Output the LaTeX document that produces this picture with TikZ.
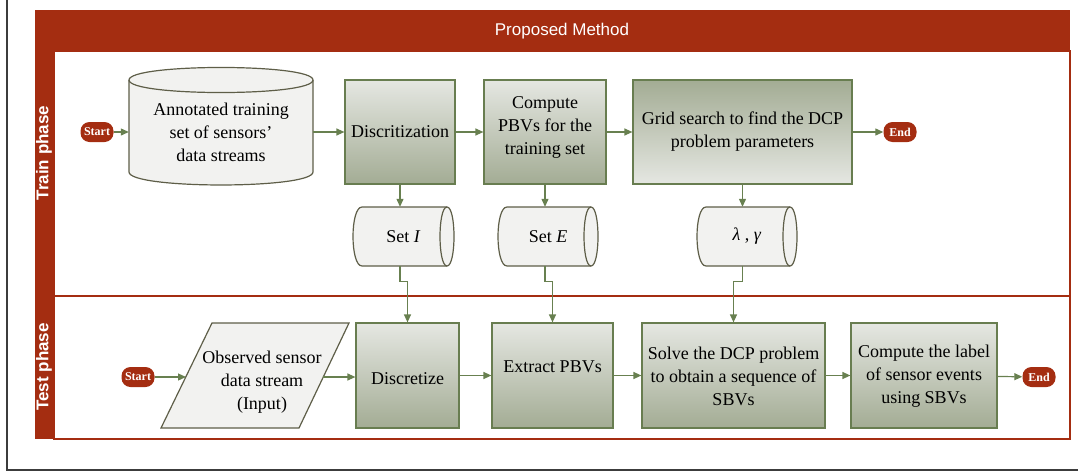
\documentclass[tikz,border=0pt]{standalone}
\usepackage{fontspec}
\setmainfont{Liberation Serif}
\setsansfont{Liberation Sans}
\usetikzlibrary{arrows.meta}
\definecolor{pool}{RGB}{164,45,17}
\definecolor{boxline}{RGB}{104,125,80}
\definecolor{gtop}{RGB}{229,231,226}
\definecolor{gbot}{RGB}{163,172,148}
\definecolor{cylfill}{RGB}{242,242,240}
\definecolor{cylline}{RGB}{94,94,72}
\definecolor{arr}{RGB}{104,128,80}
\definecolor{outerframe}{RGB}{60,60,60}
\tikzset{
 body/.style={font=\fontsize{18}{23}\selectfont, align=center, inner sep=0pt},
 procbox/.style={draw=boxline, line width=1.2pt, top color=gtop, bottom color=gbot, inner sep=0pt},
 procboxinv/.style={draw=boxline, line width=1.2pt, top color=gbot, bottom color=gtop, inner sep=0pt},
 term/.style={fill=pool, text=white, font=\bfseries\fontsize{12}{14}\selectfont, rounded corners=9pt, minimum width=33pt, minimum height=20pt, inner sep=0pt},
 flow/.style={draw=arr, line width=1.2pt, -{Triangle[length=8pt,width=7pt]}},
 cyl/.style={draw=cylline, fill=cylfill, line width=1.2pt},
 lanetitle/.style={text=white, font=\sffamily\bfseries\fontsize{17}{20}\selectfont, rotate=90},
}
\newcommand\hcyl[3]{%
 \filldraw[cyl] ({#1+9},{#3-29.5}) -- ({#2-7},{#3-29.5}) .. controls ({#2+2.33},{#3-29.5}) and ({#2+2.33},{#3+29.5}) .. ({#2-7},{#3+29.5}) -- ({#1+9},{#3+29.5}) .. controls ({#1-3},{#3+29.5}) and ({#1-3},{#3-29.5}) .. cycle;
 \draw[cyl,fill=none] ({#2-7},{#3-29.5}) .. controls ({#2-16.33},{#3-29.5}) and ({#2-16.33},{#3+29.5}) .. ({#2-7},{#3+29.5});
}
\begin{document}
\begin{tikzpicture}[x=1pt,y=-1pt]
\useasboundingbox (0,0) rectangle (1078,474);
% outer frame
\draw[outerframe, line width=1.3pt] (7,0) -- (7,470) -- (1078,470);
% pool
\fill[pool] (35,10) rectangle (1070,51);
\fill[pool] (35,51) rectangle (54,439);
\draw[pool, line width=1.5pt] (54,51) rectangle (1070,439);
\draw[pool, line width=1.5pt] (54,296) -- (1070,296);
\node[text=white, font=\sffamily\fontsize{17}{20}\selectfont] (title) at (562,31) {Proposed Method};
\node[lanetitle] (lane1) at (44,153) {Train phase};
\node[lanetitle] (lane2) at (44,367) {Test phase};

% ---- train phase
\filldraw[cyl] (129,80) .. controls (129,63.3) and (313,63.3) .. (313,80) -- (313,172) .. controls (313,189.3) and (129,189.3) .. (129,172) -- cycle;
\draw[cyl,fill=none] (129,80) .. controls (129,96.7) and (313,96.7) .. (313,80);
\node[body, minimum width=184pt] (ann) at (221,132) {Annotated training\\set of sensors'\\data streams};

\node[term] (s1) at (97,132) {Start};
\node[procbox, minimum width=110pt, minimum height=104pt] (d1) at (400,132) {};
\node[body] (d1t) at (400,132) {Discritization};
\node[procbox, minimum width=122pt, minimum height=104pt] (c1) at (545,132) {};
\node[body] (c1t) at (545,127) {Compute\\PBVs for the\\training set};
\node[procboxinv, minimum width=219pt, minimum height=104pt] (g1) at (742.5,132) {};
\node[body] (g1t) at (742.5,131.5) {Grid search to find the DCP\\problem parameters};
\node[term] (e1) at (900,132) {End};

\hcyl{353}{454}{236.5}
\hcyl{498}{598}{236.5}
\hcyl{697}{797}{236.5}
\node[body, minimum width=101pt, minimum height=59pt] (si) at (403.5,236.5) {Set \textit{I}};
\node[body, minimum width=100pt, minimum height=59pt] (se) at (548,236.5) {Set \textit{E}};
\node[body, minimum width=100pt, minimum height=59pt] (lg) at (747,236.5) {\textit{λ} , \textit{γ}};

\draw[flow] (s1) -- (ann);
\draw[flow] (ann.east) -- (d1.west);
\draw[flow] (d1) -- (c1);
\draw[flow] (c1) -- (g1);
\draw[flow] (g1) -- (e1);
\draw[flow] (d1.south) -- (d1.south |- si.north);
\draw[flow] (c1.south) -- (c1.south |- se.north);
\draw[flow] (g1.south) -- (g1.south |- lg.north);

% ---- test phase
\filldraw[cyl] (212,323) -- (349,323) -- (299,428) -- (161,428) -- cycle;
\node[body] (obs) at (262,382) {Observed sensor\\data stream\\(Input)};
\coordinate (obsL) at (186,377);
\coordinate (obsR) at (323,377);
\node[term] (s2) at (138,377) {Start};
\node[procbox, minimum width=103pt, minimum height=105pt] (disc2) at (407.5,375.5) {};
\node[body] (disc2t) at (407.5,379) {Discretize};
\node[procbox, minimum width=121pt, minimum height=105pt] (ext) at (552.5,375.5) {};
\node[body] (extt) at (552.5,367) {Extract PBVs};
\node[procbox, minimum width=183pt, minimum height=105pt] (sol) at (733.5,375.5) {};
\node[body] (solt) at (733.5,376) {Solve the DCP problem\\to obtain a sequence of\\SBVs};
\node[procbox, minimum width=146pt, minimum height=105pt] (lab) at (924,375.5) {};
\node[body] (labt) at (924,376) {Compute the label\\of sensor events\\using SBVs};
\node[term] (e2) at (1039,377) {End};

\draw[flow] (s2) -- (obsL);
\draw[flow] (obsR) -- (obsR -| disc2.west);
\draw[flow] (disc2) -- (ext);
\draw[flow] (ext) -- (sol);
\draw[flow] (sol) -- (lab);
\draw[flow] (lab) -- (e2);

% ---- cross-lane connectors
\draw[flow] (d1.south |- si.south) -- ++(0,15) -| (disc2.north);
\draw[flow] (c1.south |- se.south) -- ++(0,15) -| (ext.north);
\draw[flow] (g1.south |- lg.south) -- ++(0,15) -| (sol.north);
\end{tikzpicture}
\end{document}
